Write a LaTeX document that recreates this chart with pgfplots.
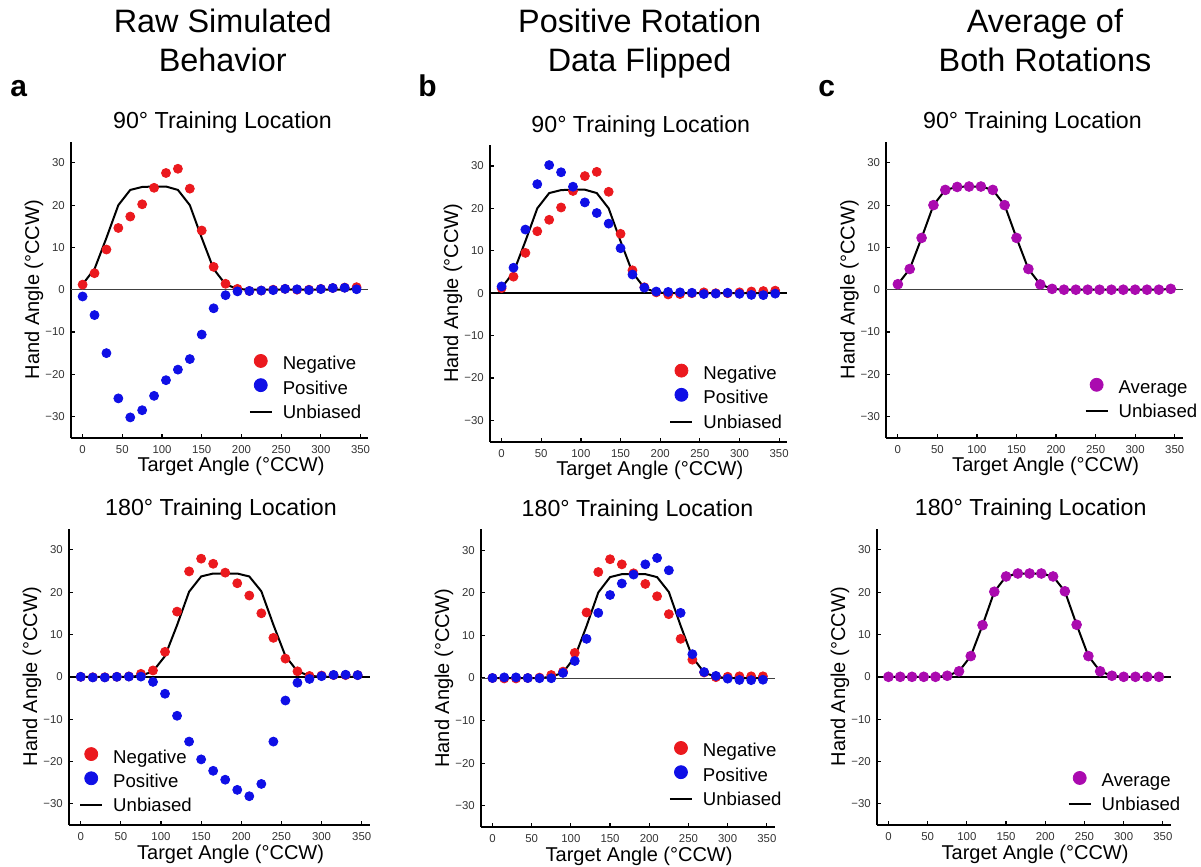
\documentclass[border=0pt]{standalone}
\usepackage{fontspec}
\setmainfont{Liberation Sans}
\usepackage{pgfplots}
\pgfplotsset{compat=1.18}
\usepackage{pgfplotstable}

\definecolor{negred}{RGB}{235,25,30}
\definecolor{posblue}{RGB}{15,15,230}
\definecolor{avgpurple}{RGB}{170,10,175}

% Hand angle per target for each training location
\pgfplotstableread{
x   neg90 pos90 fpos90 avg90 neg180 pos180 fpos180 avg180
0    1.2  -1.6   1.6   1.3   0.0   0.0    0.0    0.0
15   3.9  -6.0   6.0   4.9  -0.1  -0.15   0.15   0.0
30   9.5 -15.0  15.0  12.25 -0.1  -0.15   0.15   0.0
45  14.6 -25.7  25.7  20.0   0.0   0.0    0.0    0.0
60  17.3 -30.2  30.2  23.6   0.1   0.05  -0.05   0.0
75  20.2 -28.5  28.5  24.3   0.7   0.05  -0.05   0.25
90  24.1 -25.1  25.1  24.4   1.5  -1.2    1.2    1.3
105 27.6 -21.4  21.4  24.4   5.9  -4.0    4.0    4.9
120 28.6 -18.9  18.9  23.6  15.4  -9.2    9.2   12.2
135 23.9 -16.4  16.4  20.0  24.9 -15.3   15.3   20.1
150 14.0 -10.6  10.6  12.25 27.9 -19.5   19.5   23.7
165  5.4  -4.4   4.4   4.9  26.7 -22.2   22.2   24.4
180  1.4  -1.3   1.3   1.25 24.6 -24.3   24.3   24.4
195  0.2  -0.4   0.4   0.2  22.1 -26.7   26.7   24.4
210 -0.3  -0.3   0.3   0.0  19.2 -28.2   28.2   23.7
225 -0.2  -0.2   0.2   0.0  15.0 -25.3   25.3   20.2
240  0.0  -0.1   0.1   0.0   9.2 -15.3   15.3   12.3
255  0.2   0.2  -0.2   0.0   4.3  -5.6    5.6    4.9
270  0.0   0.1  -0.1   0.0   1.3  -1.4    1.4    1.3
285  0.0  -0.1   0.1   0.0   0.2  -0.5    0.5    0.25
300  0.2   0.15 -0.15  0.0   0.3   0.15  -0.15   0.0
315  0.4   0.4  -0.4   0.0   0.4   0.45  -0.45   0.0
330  0.5   0.45 -0.45  0.0   0.4   0.5   -0.5    0.0
345  0.6   0.1  -0.1   0.2   0.4   0.4   -0.4    0.0
}\angles

\pgfplotsset{
  panel/.style={
    scale only axis, clip=false,
    axis lines*=left,
    xmin=-15, xmax=360, ymin=-35, ymax=35,
    xtick={0,50,...,350}, xticklabels={0,50,100,150,200,250,300,350},
    ytick={-30,-20,...,30}, yticklabels={−30,−20,−10,0,10,20,30},
    tick align=inside, major tick length=2pt,
    axis line style={line width=0.9pt, black},
    tick style={line width=0.6pt, black},
    ticklabel style={font=\fontsize{5.7}{6.5}\selectfont, text=black!80},
    xticklabel style={inner sep=0pt, yshift=-3.5pt},
    yticklabel style={inner sep=0pt, xshift=-2.8pt},
    xlabel={Target Angle (°CCW)}, ylabel={Hand Angle (°CCW)},
    label style={font=\fontsize{9.4}{11}\selectfont},
    every axis x label/.style={at={(axis description cs:0.5,0)}, xshift=5.7pt, yshift=-17pt, anchor=base},
    every axis y label/.style={at={(axis description cs:0,0.5)}, xshift=-15.75pt, rotate=90, anchor=base},
    legend style={draw=none, fill=none, inner sep=0pt, row sep=2.6pt,
      font=\fontsize{9.3}{11}\selectfont, cells={anchor=base west}, nodes={inner sep=0pt}},
  },
  dots/.style={only marks, mark=*, mark size=2.25pt, color=#1, mark options={draw=#1, fill=#1}},
  zeroline/.style={forget plot, line width=#1, black},
  unbiased/.style={black, line width=1pt},
  legred/.style={legend image code/.code={\fill[negred] (5.5pt,4.5pt) circle (3.25pt); \path[draw=none, fill=none] (0pt,0pt) rectangle (16.5pt,8pt);}},
  legblue/.style={legend image code/.code={\fill[posblue] (5.5pt,4.5pt) circle (3.25pt); \path[draw=none, fill=none] (0pt,0pt) rectangle (16.5pt,8pt);}},
  legpurple/.style={legend image code/.code={\fill[avgpurple] (5.5pt,4.2pt) circle (3.25pt); \path[draw=none, fill=none] (0pt,0pt) rectangle (16.5pt,8pt);}},
  legline/.style={legend image code/.code={\draw[black, line width=1.1pt] (0pt,3.1pt) -- (11pt,3.1pt); \path[draw=none, fill=none] (0pt,0pt) rectangle (16.5pt,8pt);}},
}
\newcommand{\ls}{\rule[-2.5pt]{0pt}{10.5pt}}

\begin{document}
\begin{tikzpicture}
\useasboundingbox (0,0) rectangle (600.5pt,-433.5pt);

% column headings
\begin{scope}[every node/.style={anchor=base, inner sep=0pt, font=\fontsize{16.2}{19}\selectfont}]
\node at (111.35pt,-16.15pt) {Raw Simulated};
\node at (111.35pt,-35.85pt) {Behavior};
\node at (319.85pt,-16.15pt) {Positive Rotation};
\node at (319.85pt,-35.85pt) {Data Flipped};
\node at (522.5pt,-16.15pt) {Average of};
\node at (522.5pt,-35.85pt) {Both Rotations};
\end{scope}

% panel letters
\begin{scope}[every node/.style={anchor=base west, inner sep=0pt, font=\bfseries\fontsize{15}{18}\selectfont}]
\node at (5pt,-48.5pt) {a};
\node at (209pt,-48.5pt) {b};
\node at (409pt,-48.5pt) {c};
\end{scope}

% panel titles
\begin{scope}[every node/.style={anchor=base, inner sep=0pt, font=\fontsize{11.6}{14}\selectfont}]
\node at (111.25pt,-64.15pt) {90° Training Location};
\node at (320.4pt,-66.35pt) {90° Training Location};
\node at (516.25pt,-64.15pt) {90° Training Location};
\node at (110.5pt,-257.5pt) {180° Training Location};
\node at (318.75pt,-258.35pt) {180° Training Location};
\node at (515.35pt,-257.5pt) {180° Training Location};
\end{scope}

% a: raw behaviour, 90 deg
\begin{axis}[panel, at={(35.35pt,-218.85pt)}, width=148.9pt, height=148pt,
  legend style={at={(axis cs:208.6,-15.1)}, anchor=north west}]
\addplot[zeroline=0.45pt, black!75] coordinates {(-15,0) (360,0)};
\addplot[dots=negred, legred] table[x=x, y=neg90] {\angles};
\addlegendentry{\ls Negative}
\addplot[dots=posblue, legblue] table[x=x, y=pos90] {\angles};
\addlegendentry{\ls Positive}
\addplot[unbiased, legline] table[x=x, y=avg90] {\angles};
\addlegendentry{\ls Unbiased}
\end{axis}

% a: raw behaviour, 180 deg
\begin{axis}[panel, at={(34.35pt,-412.5pt)}, width=150.5pt, height=148.2pt,
  legend style={at={(axis cs:-2.5,-16.5)}, anchor=north west}]
\addplot[zeroline=0.8pt] coordinates {(-15,0) (360,0)};
\addplot[dots=negred, legred] table[x=x, y=neg180] {\angles};
\addlegendentry{\ls Negative}
\addplot[dots=posblue, legblue] table[x=x, y=pos180] {\angles};
\addlegendentry{\ls Positive}
\addplot[unbiased, legline] table[x=x, y=avg180] {\angles};
\addlegendentry{\ls Unbiased}
\end{axis}

% b: positive rotation flipped, 90 deg
\begin{axis}[panel, at={(244.85pt,-220.85pt)}, width=148.7pt, height=148.5pt,
  legend style={at={(axis cs:211,-16.5)}, anchor=north west}]
\addplot[zeroline=0.8pt] coordinates {(-15,0) (360,0)};
\addplot[dots=negred, legred] table[x=x, y=neg90] {\angles};
\addlegendentry{\ls Negative}
\addplot[dots=posblue, legblue] table[x=x, y=fpos90] {\angles};
\addlegendentry{\ls Positive}
\addplot[unbiased, legline] table[x=x, y=avg90] {\angles};
\addlegendentry{\ls Unbiased}
\end{axis}

% b: positive rotation flipped, 180 deg
\begin{axis}[panel, at={(240.35pt,-413.5pt)}, width=147pt, height=149pt,
  legend style={at={(axis cs:224.5,-14.7)}, anchor=north west}]
\addplot[zeroline=0.45pt, black!75] coordinates {(-15,0) (360,0)};
\addplot[dots=negred, legred] table[x=x, y=neg180] {\angles};
\addlegendentry{\ls Negative}
\addplot[dots=posblue, legblue] table[x=x, y=fpos180] {\angles};
\addlegendentry{\ls Positive}
\addplot[unbiased, legline] table[x=x, y=avg180] {\angles};
\addlegendentry{\ls Unbiased}
\end{axis}

% c: average of both rotations, 90 deg
\begin{axis}[panel, at={(443pt,-218.85pt)}, width=148.3pt, height=148pt,
  legend style={at={(axis cs:235.5,-20.6)}, anchor=north west}]
\addplot[zeroline=0.45pt, black!75] coordinates {(-15,0) (360,0)};
\addplot[unbiased, forget plot] table[x=x, y=avg90] {\angles};
\addplot[dots=avgpurple, mark size=2.45pt, legpurple] table[x=x, y=avg90] {\angles};
\addlegendentry{\ls Average}
\addlegendimage{unbiased, legline}
\addlegendentry{\ls Unbiased}
\end{axis}

% c: average of both rotations, 180 deg
\begin{axis}[panel, at={(438.35pt,-412.5pt)}, width=147pt, height=148.2pt,
  legend style={at={(axis cs:228,-22)}, anchor=north west}]
\addplot[zeroline=0.8pt] coordinates {(-15,0) (360,0)};
\addplot[unbiased, forget plot] table[x=x, y=avg180] {\angles};
\addplot[dots=avgpurple, mark size=2.45pt, legpurple] table[x=x, y=avg180] {\angles};
\addlegendentry{\ls Average}
\addlegendimage{unbiased, legline}
\addlegendentry{\ls Unbiased}
\end{axis}
\end{tikzpicture}
\end{document}
